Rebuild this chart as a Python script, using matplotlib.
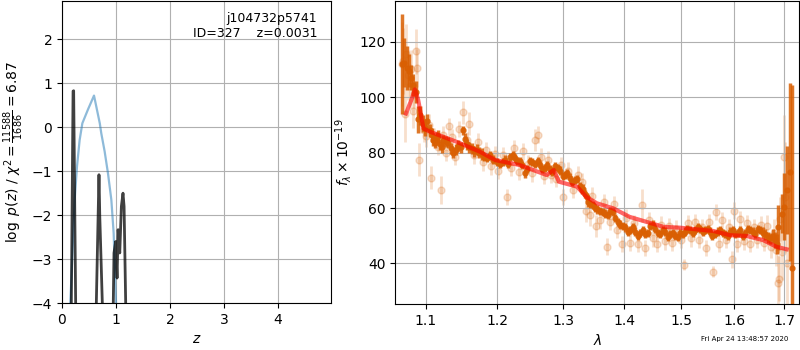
import numpy as np
import matplotlib
matplotlib.use('Agg')
import matplotlib.pyplot as plt

# p(z) panel
z_prior = [0.154, 0.235, 0.278, 0.327, 0.377, 0.48, 0.593, 0.70, 0.728, 0.79, 0.852, 0.914, 0.957, 0.994, 1.01]
logp_prior = [-4.0, -1.65, -0.89, -0.29, 0.09, 0.40, 0.72, 0.09, -0.14, -0.55, -1.05, -1.65, -2.41, -3.77, -4.3]

z_fit = [0.16, 0.173, 0.205, 0.216, 0.253, 0.265, 0.62, 0.636, 0.685, 0.70, 0.747, 0.76,
         0.94, 0.95, 0.963, 0.994, 1.02, 1.04, 1.07, 1.10, 1.13, 1.15, 1.18, 1.19]
logp_fit = [-6, -4.0, 0.82, 0.83, -4.0, -6, -6, -4.0, -1.08, -2.03, -4.0, -6,
            -6, -4.0, -2.86, -2.6, -3.43, -2.33, -2.86, -1.8, -1.5, -1.8, -4.0, -6]

# spectrum panel: binned points
wave_bin = [1.0684, 1.0714, 1.0749, 1.0780, 1.0806, 1.0837, 1.0872, 1.0894, 1.0925, 1.0960,
            1.1013, 1.1058, 1.1103, 1.1148, 1.1193, 1.1238, 1.1307, 1.1376, 1.1445, 1.1514,
            1.1561, 1.1632, 1.1702, 1.1774, 1.1845, 1.1941, 1.2039, 1.2112, 1.2186, 1.2260,
            1.2334, 1.2409, 1.2485, 1.2561, 1.2638, 1.2715, 1.2792, 1.2870, 1.2949, 1.3027,
            1.3107, 1.3187, 1.3267, 1.3321, 1.3375, 1.3429, 1.3511, 1.3593, 1.3676, 1.3760,
            1.3844, 1.3928, 1.4013, 1.4098, 1.4184, 1.4270, 1.4357, 1.4444, 1.4532, 1.4621,
            1.4710, 1.4799, 1.4889, 1.4980, 1.5071, 1.5163, 1.5255, 1.5348, 1.5441, 1.5535,
            1.5630, 1.5725, 1.5821, 1.5917, 1.6014, 1.6112, 1.6210, 1.6308, 1.6408, 1.6508,
            1.6608, 1.6709, 1.6811, 1.6879, 1.6947, 1.6995, 1.7064, 1.7119, 1.7154,
            1.0990, 1.1080, 1.1125, 1.1170, 1.1215, 1.1270, 1.1340, 1.1410, 1.1480, 1.1540,
            1.1600, 1.1665, 1.1740, 1.1810, 1.1890, 1.1990, 1.2075, 1.2150, 1.2225, 1.2295,
            1.2370, 1.2445, 1.2520, 1.2600, 1.2675, 1.2750, 1.2830, 1.2910, 1.2990, 1.3065,
            1.3145, 1.3225, 1.3295, 1.3350, 1.3400, 1.3470, 1.3550, 1.3635, 1.3720, 1.3800,
            1.3885, 1.3970, 1.4055, 1.4140, 1.4225, 1.4315, 1.4400, 1.4490, 1.4575, 1.4665,
            1.4755, 1.4845, 1.4935, 1.5025, 1.5115, 1.5210, 1.5300, 1.5395, 1.5490, 1.5580,
            1.5680, 1.5775, 1.5870, 1.5965, 1.6065, 1.6160, 1.6260, 1.6360, 1.6460, 1.6560,
            1.6660, 1.6760, 1.6850]
flux_bin = [112.0, 112.5, 110.5, 109.5, 107.0, 104.5, 102.0, 92.0, 93.5, 90.5,
            91.5, 88.0, 84.5, 85.5, 83.0, 84.5, 83.5, 80.0, 82.5, 88.0,
            83.0, 81.5, 81.0, 79.5, 78.0, 77.5, 76.0, 77.5, 78.5, 78.0,
            77.0, 72.5, 77.0, 76.0, 75.5, 74.5, 74.0, 75.0, 73.5, 72.0,
            71.0, 70.0, 68.0, 67.0, 64.0, 61.5, 60.0, 59.0, 58.0, 59.0,
            56.5, 54.0, 53.0, 52.0, 51.5, 51.0, 50.5, 53.5, 52.5, 50.5,
            51.5, 50.5, 50.0, 51.0, 51.5, 52.0, 52.0, 52.5, 52.0, 51.5,
            50.5, 52.0, 50.5, 51.5, 50.5, 52.0, 51.0, 52.0, 50.5, 52.0,
            50.5, 49.0, 48.5, 53.0, 58.0, 60.5, 66.5, 73.0, 38.5,
            89.0, 86.5, 83.5, 86.0, 82.0, 84.0, 81.5, 81.0, 82.0, 85.0,
            82.0, 80.5, 80.0, 78.5, 79.0, 76.5, 76.5, 76.0, 79.0, 77.0,
            75.5, 74.0, 76.5, 77.0, 74.0, 75.5, 73.0, 74.5, 71.5, 72.5,
            69.5, 70.5, 66.5, 65.0, 62.0, 61.0, 59.5, 58.5, 57.5, 58.5,
            55.0, 53.5, 51.5, 53.0, 50.0, 52.0, 51.0, 54.0, 51.0, 52.0,
            49.5, 51.0, 49.5, 50.5, 52.5, 51.0, 53.0, 51.5, 52.5, 50.0,
            51.5, 51.0, 50.0, 52.0, 51.0, 50.0, 52.5, 51.5, 52.5, 51.0,
            49.5, 50.0, 47.0]
err_bin = [18.0, 9.0, 8.0, 6.0, 4.5, 4.0, 4.0, 5.0, 3.5, 3.0,
           2.5, 2.5, 2.0, 2.0, 2.0, 2.0, 2.0, 2.0, 2.0, 1.5,
           2.0, 2.0, 2.0, 2.0, 1.5, 1.5, 1.5, 1.5, 1.5, 1.5,
           1.5, 1.5, 1.5, 1.5, 1.5, 1.5, 1.5, 1.5, 1.5, 1.5,
           1.5, 1.5, 1.5, 1.5, 1.5, 1.5, 1.5, 1.5, 1.5, 1.5,
           1.5, 1.5, 1.5, 1.5, 1.5, 1.5, 1.5, 1.5, 1.5, 1.5,
           1.5, 1.5, 1.5, 1.5, 1.5, 1.5, 1.5, 1.5, 1.5, 1.5,
           1.5, 1.5, 1.5, 1.5, 1.5, 1.5, 1.5, 1.5, 1.5, 1.5,
           2.0, 2.0, 3.0, 8.0, 7.0, 12.0, 16.0, 32.0, 66.0,
           3.0, 2.5, 2.0, 2.0, 2.0, 2.0, 2.0, 2.0, 2.0, 2.0,
           2.0, 2.0, 2.0, 1.5, 1.5, 1.5, 1.5, 1.5, 1.5, 1.5,
           1.5, 1.5, 1.5, 1.5, 1.5, 1.5, 1.5, 1.5, 1.5, 1.5,
           1.5, 1.5, 1.5, 1.5, 1.5, 1.5, 1.5, 1.5, 1.5, 1.5,
           1.5, 1.5, 1.5, 1.5, 1.5, 1.5, 1.5, 1.5, 1.5, 1.5,
           1.5, 1.5, 1.5, 1.5, 1.5, 1.5, 1.5, 1.5, 1.5, 1.5,
           1.5, 1.5, 1.5, 1.5, 1.5, 1.5, 1.5, 1.5, 1.5, 2.0,
           2.0, 2.5, 3.5]

# spectrum panel: unbinned points
wave_raw = [1.0684, 1.0700, 1.0730, 1.0745, 1.0765, 1.0790, 1.0810, 1.0830, 1.0850, 1.0870,
            1.0890, 1.0905, 1.0940, 1.0975, 1.1000, 1.1040, 1.1070, 1.1110, 1.1160, 1.1200,
            1.1230, 1.1280, 1.1310, 1.1355, 1.1400, 1.1450, 1.1510, 1.1570, 1.1600, 1.1660,
            1.1720, 1.1790, 1.1830, 1.1910, 1.1960, 1.2010, 1.2080, 1.2140, 1.2200, 1.2240,
            1.2320, 1.2380, 1.2450, 1.2510, 1.2560, 1.2610, 1.2650, 1.2700, 1.2760, 1.2800,
            1.2880, 1.2960, 1.3000, 1.3080, 1.3160, 1.3240, 1.3300, 1.3360, 1.3420, 1.3460,
            1.3530, 1.3600, 1.3650, 1.3700, 1.3750, 1.3820, 1.3870, 1.3960, 1.4030, 1.4100,
            1.4160, 1.4240, 1.4300, 1.4360, 1.4420, 1.4500, 1.4560, 1.4640, 1.4700, 1.4780,
            1.4840, 1.4910, 1.4990, 1.5050, 1.5120, 1.5180, 1.5250, 1.5320, 1.5390, 1.5460,
            1.5520, 1.5590, 1.5650, 1.5700, 1.5760, 1.5840, 1.5900, 1.5960, 1.6000, 1.6050,
            1.6100, 1.6180, 1.6240, 1.6300, 1.6380, 1.6450, 1.6520, 1.6590, 1.6650, 1.6720,
            1.6780, 1.6830, 1.6860, 1.6900, 1.6920, 1.6960, 1.6990, 1.7020, 1.7050]
flux_raw = [112.0, 113.0, 94.0, 115.5, 108.0, 104.0, 110.0, 95.0, 101.0, 116.5,
            110.5, 77.5, 92.0, 88.0, 86.0, 90.0, 71.0, 86.0, 82.0, 66.5,
            86.5, 80.0, 89.5, 85.5, 78.5, 88.5, 94.5, 84.5, 90.5, 79.0,
            84.0, 76.5, 81.0, 75.0, 79.5, 73.5, 79.0, 64.0, 74.5, 81.5,
            73.0, 80.5, 76.0, 72.5, 84.5, 86.5, 78.5, 71.5, 77.5, 72.0,
            70.5, 75.5, 64.0, 73.5, 66.5, 72.0, 69.5, 59.0, 57.5, 64.5,
            53.5, 55.5, 62.0, 46.0, 55.0, 61.5, 52.0, 47.0, 56.5, 47.5,
            54.5, 47.0, 61.0, 45.5, 55.5, 49.0, 47.0, 54.0, 48.0, 53.5,
            47.5, 52.5, 48.5, 39.5, 54.5, 49.0, 55.0, 48.5, 53.0, 45.5,
            55.0, 37.0, 58.5, 47.0, 55.5, 48.5, 53.0, 41.5, 59.0, 47.0,
            56.0, 48.0, 54.5, 47.0, 53.0, 48.5, 54.0, 47.5, 53.5, 46.0,
            51.0, 45.0, 33.0, 34.5, 56.0, 44.0, 78.5, 64.0, 40.0]
err_raw = [15, 12, 10, 11, 9, 8, 7, 6, 5, 8,
           7, 6, 5, 4, 4, 4, 4, 3, 3, 5,
           3, 3, 3, 3, 3, 3, 4, 3, 4, 3,
           3, 3, 3, 3, 3, 3, 3, 3, 3, 3,
           3, 3, 3, 3, 4, 3, 3, 3, 3, 3,
           3, 3, 3, 3, 3, 3, 3, 4, 4, 3,
           4, 3, 3, 3, 3, 3, 3, 3, 3, 3,
           3, 3, 6, 3, 3, 3, 3, 3, 3, 3,
           3, 3, 3, 2, 3, 3, 3, 3, 3, 3,
           3, 2, 3, 3, 3, 3, 3, 3, 3, 3,
           3, 3, 3, 3, 3, 3, 3, 3, 4, 4,
           5, 6, 10, 8, 8, 10, 15, 20, 20]

wave_model = [1.074, 1.081, 1.0857, 1.090, 1.097, 1.106, 1.142, 1.175, 1.197, 1.233,
              1.274, 1.285, 1.293, 1.322, 1.337, 1.354, 1.381, 1.409, 1.438, 1.468,
              1.498, 1.528, 1.560, 1.591, 1.624, 1.657, 1.684, 1.705]
flux_model = [94.1, 99.0, 102.8, 99.0, 88.7, 87.5, 83.9, 80.3, 77.3, 75.5,
              71.9, 73.7, 69.5, 67.7, 64.0, 61.7, 59.9, 56.8, 55.0, 53.2,
              52.9, 52.3, 51.7, 50.2, 49.9, 48.4, 46.0, 45.1]

orange = '#d95f02'

fig = plt.figure(figsize=(8, 3.5), dpi=100)
ax1 = fig.add_axes([0.0775, 0.134, 0.336, 0.863])
ax2 = fig.add_axes([0.494, 0.131, 0.505, 0.866])

ax1.plot(z_prior, logp_prior, color='#1f77b4', alpha=0.5, lw=1.6)
ax1.plot(z_fit, logp_fit, color='k', alpha=0.75, lw=2)
ax1.set_xlim(0, 4.98)
ax1.set_ylim(-4, 2.87)
ax1.set_xticks([0, 1, 2, 3, 4])
ax1.set_yticks([-4, -3, -2, -1, 0, 1, 2])
ax1.grid()
ax1.set_xlabel(r'$z$')
ax1.set_ylabel(r'$\log\ p(z)$' + ' / ' + r'$\chi^2=\frac{11588}{1686}=6.87$')
ax1.text(0.95, 0.965, 'j104732p5741\nID=327    z=0.0031', ha='right', va='top',
         transform=ax1.transAxes, fontsize=9)

ax2.errorbar(wave_raw, flux_raw, yerr=err_raw, color=orange, alpha=0.2, fmt='o',
             ms=5, elinewidth=2, zorder=1)
ax2.errorbar(wave_bin, flux_bin, yerr=err_bin, color=orange, alpha=0.85, fmt='o',
             ms=3.5, elinewidth=2.5, zorder=2)
ax2.plot(wave_model, flux_model, color='r', alpha=0.6, lw=3, zorder=3)

ax2.set_xscale('log')
ax2.set_xlim(1.06, 1.731)
ax2.set_ylim(25.3, 134.7)
ticks = [1.1, 1.2, 1.3, 1.4, 1.5, 1.6, 1.7]
ax2.set_xticks(ticks)
ax2.set_xticklabels([str(t) for t in ticks])
ax2.xaxis.set_minor_locator(matplotlib.ticker.NullLocator())
ax2.set_yticks([40, 60, 80, 100, 120])
ax2.grid()
ax2.set_xlabel(r'$\lambda$')
ax2.set_ylabel(r'$f_\lambda\times10^{-19}$')

fig.text(0.985, 0.031, 'Fri Apr 24 13:48:57 2020', ha='right', va='center', fontsize=5)

fig.savefig('out.png', dpi=100)
